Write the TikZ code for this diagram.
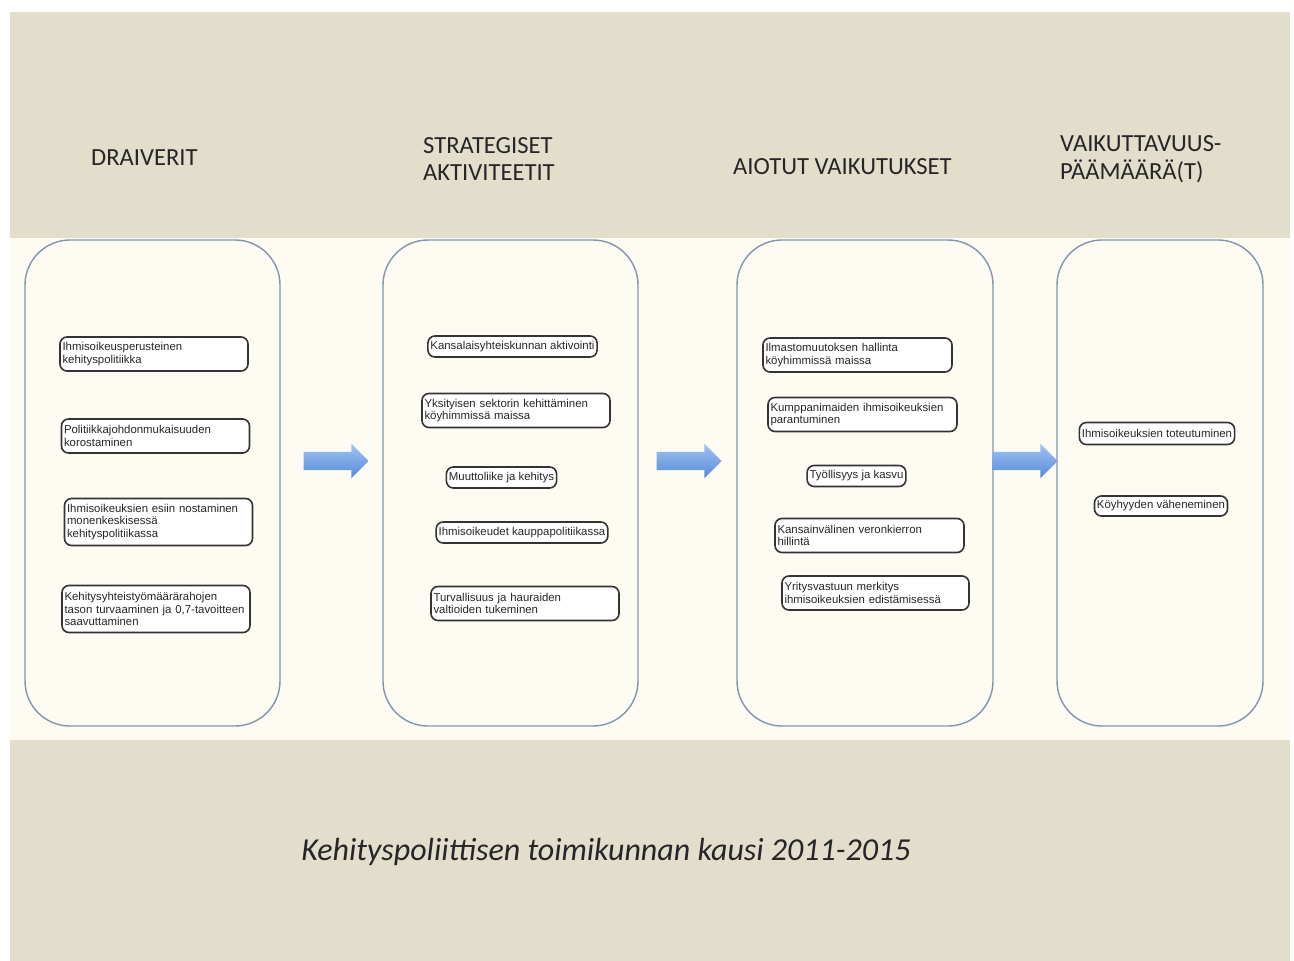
\documentclass[tikz,border=0pt]{standalone}
\usepackage{fontspec}
\setmainfont{Carlito}
\newfontfamily\boxfont{Liberation Sans}
\usetikzlibrary{shapes.arrows}
\definecolor{beige}{RGB}{227,221,204}
\definecolor{ivory}{RGB}{254,252,242}
\definecolor{frame}{RGB}{130,148,175}
\definecolor{arrowtop}{RGB}{160,196,244}
\definecolor{arrowbot}{RGB}{86,138,216}
\definecolor{ink}{RGB}{38,38,38}

\begin{document}
\begin{tikzpicture}[x=1pt,y=-1pt]
	\tikzstyle{column} = [draw=frame, line width=1.4pt, fill=ivory, rounded corners=45pt, minimum height=486pt]
	\tikzstyle{heading} = [anchor=west, align=left, text=ink, inner sep=0pt, font=\fontsize{24.6}{27.5}\selectfont]
	\tikzstyle{item} = [draw=black!80, line width=1.6pt, fill=white, rounded corners=7pt, inner xsep=2.5pt, inner ysep=2pt, text=black!85, font=\boxfont\fontsize{11.4}{12.6}\selectfont]
	\tikzstyle{twoline} = [item, align=left, minimum height=34pt]
	\tikzstyle{threeline} = [item, align=left, minimum height=47pt]
	\tikzstyle{flow} = [single arrow, single arrow head extend=8pt, single arrow tip angle=90, minimum height=65pt, inner xsep=0pt, inner ysep=9pt, top color=arrowtop, bottom color=arrowbot]

	\useasboundingbox (0,0) rectangle (1294,961);
	\fill[beige] (10,12) rectangle (1290,961);
	\fill[ivory] (10,238) rectangle (1290,740);

	\node[heading] (Drivers) at (91,158) {DRAIVERIT};
	\node[heading] (Strategy) at (423,159) {STRATEGISET\\AKTIVITEETIT};
	\node[heading] (Effects) at (733,167) {AIOTUT VAIKUTUKSET};
	\node[heading] (Goals) at (1060,159) {VAIKUTTAVUUS-\\PÄÄMÄÄRÄ(T)};

	\node[column, minimum width=255pt] (Col1) at (152.5,483) {};
	\node[column, minimum width=255pt] (Col2) at (510.5,483) {};
	\node[column, minimum width=256pt] (Col3) at (865,483) {};
	\node[column, minimum width=206pt] (Col4) at (1160,483) {};

	\node[twoline, text width=183pt] (Drv1) at (154,354) {Ihmisoikeusperusteinen\\kehityspolitiikka};
	\node[twoline, text width=183pt] (Drv2) at (155.5,436) {Politiikkajohdonmukaisuuden\\korostaminen};
	\node[threeline, text width=183pt] (Drv3) at (158.5,522) {Ihmisoikeuksien esiin nostaminen\\monenkeskisessä\\kehityspolitiikassa};
	\node[threeline, text width=183pt] (Drv4) at (156,609) {Kehitysyhteistyömäärärahojen\\\mbox{tason turvaaminen ja 0,7-tavoitteen}\\saavuttaminen};

	\node[item, minimum height=21pt] (Str1) at (512.5,346.5) {Kansalaisyhteiskunnan aktivointi};
	\node[twoline, text width=183pt] (Str2) at (516,410.5) {Yksityisen sektorin kehittäminen\\köyhimmissä maissa};
	\node[item, minimum height=21pt] (Str3) at (501.5,477.5) {Muuttoliike ja kehitys};
	\node[item, minimum height=21pt] (Str4) at (522,532.5) {Ihmisoikeudet kauppapolitiikassa};
	\node[twoline, text width=183pt] (Str5) at (525,603.5) {Turvallisuus ja hauraiden\\valtioiden tukeminen};

	\node[twoline, text width=184pt] (Eff1) at (857.5,355) {Ilmastomuutoksen hallinta\\köyhimmissä maissa};
	\node[twoline, text width=184pt] (Eff2) at (862.5,414.5) {Kumppanimaiden ihmisoikeuksien\\parantuminen};
	\node[item, minimum height=21pt] (Eff3) at (856.5,476) {Työllisyys ja kasvu};
	\node[twoline, text width=184pt] (Eff4) at (869.5,535.5) {Kansainvälinen veronkierron\\hillintä};
	\node[twoline, text width=182pt] (Eff5) at (875.5,593) {Yritysvastuun merkitys\\ihmisoikeuksien edistämisessä};

	\node[item, minimum height=22pt] (Goal1) at (1157,433.5) {Ihmisoikeuksien toteutuminen};
	\node[item, minimum height=20pt] (Goal2) at (1161,506) {Köyhyyden väheneminen};

	\node[flow] (Flow1) at (331.5,461) {};
	\node[flow] (Flow2) at (684.5,461) {};
	\node[flow] (Flow3) at (1020.5,461) {};

	\node[text=ink, font=\itshape\fontsize{32}{36}\selectfont] (Period) at (606,852) {Kehityspoliittisen toimikunnan kausi 2011-2015};
\end{tikzpicture}
\end{document}
